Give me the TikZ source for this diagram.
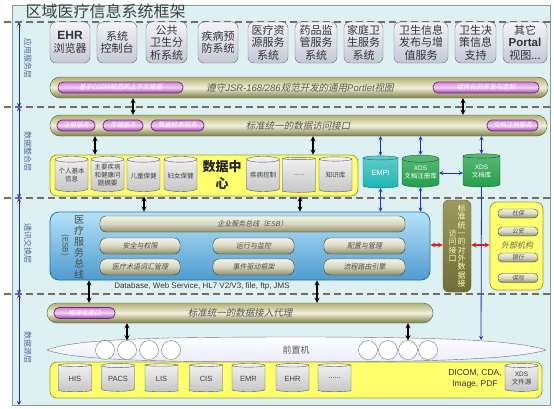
\documentclass[tikz,border=0pt]{standalone}
\usepackage{fontspec}
\setmainfont{Noto Sans CJK SC}
\newfontfamily\lat{Liberation Sans}
\newfontfamily\itcjk{Noto Sans CJK SC}[FakeSlant=0.2]
\XeTeXlinebreaklocale "zh"
\usetikzlibrary{arrows,shapes.geometric,calc,positioning}

\definecolor{bgcyan}{HTML}{DDF1F2}
\definecolor{frameline}{HTML}{8A9AA0}
\definecolor{sepline}{HTML}{7B6B5B}
\definecolor{appline}{HTML}{6A6C7C}
\definecolor{apptop}{HTML}{F4F4F8}
\definecolor{appbot}{HTML}{C4C7D6}
\definecolor{olivetop}{HTML}{B0B074}
\definecolor{olivemid}{HTML}{F0F0DA}
\definecolor{olivebot}{HTML}{7E7E45}
\definecolor{oliveline}{HTML}{5E5E2E}
\definecolor{purptop}{HTML}{D080DA}
\definecolor{purpmid}{HTML}{F3D2F5}
\definecolor{purpbot}{HTML}{A040B0}
\definecolor{purpline}{HTML}{6E2A80}
\definecolor{yellowfill}{HTML}{FFFF6E}
\definecolor{yellowline}{HTML}{9C9C3A}
\definecolor{cyltop}{HTML}{F2F2F2}
\definecolor{cylbot}{HTML}{C6C6C6}
\definecolor{cylline}{HTML}{5A5A5A}
\definecolor{tealfill}{HTML}{1FB5B5}
\definecolor{tealline}{HTML}{0E6E6E}
\definecolor{greenfill}{HTML}{23A04A}
\definecolor{greenline}{HTML}{0F5E28}
\definecolor{esbtop}{HTML}{B5E2F7}
\definecolor{esbbot}{HTML}{4E9BD0}
\definecolor{esbline}{HTML}{2F6FA0}
\definecolor{pilltop}{HTML}{F4F4E6}
\definecolor{pillbot}{HTML}{8E8E68}
\definecolor{pillline}{HTML}{3E3E2E}
\definecolor{stdtop}{HTML}{9A9A60}
\definecolor{stdbot}{HTML}{6E6E38}
\definecolor{redarr}{HTML}{E21B1B}
\definecolor{bluearr}{HTML}{1B2BD0}
\definecolor{sidetext}{HTML}{4A6A9A}

\newcommand\fs[2]{\fontsize{#1}{#2}\selectfont}

\begin{document}
\begin{tikzpicture}[
x=1pt,y=-1pt,
>=stealth,
appbox/.style={
	draw=appline,
	rounded corners=6,
	top color=apptop,
	bottom color=appbot,
	minimum height=41,
	inner sep=0pt,
	align=center,
	text=black!80,
	font=\fs{11}{12.5}
},
tube/.style={
	draw=oliveline,
	rounded corners=10,
	top color=olivetop,
	bottom color=olivebot,
	middle color=olivemid,
	inner sep=0pt
},
purple/.style={
	draw=purpline,
	thick,
	rounded corners=5,
	top color=purptop,
	bottom color=purpbot,
	middle color=purpmid,
	minimum height=11,
	inner sep=0pt,
	text=white,
	font=\itcjk\fs{6.5}{7}
},
bartext/.style={
	text=black!65,
	font=\itcjk\fs{9.5}{10}
},
yellowbox/.style={
	draw=yellowline,
	thick,
	rounded corners=7,
	fill=yellowfill,
	inner sep=0pt
},
cyl/.style={
	cylinder,
	shape border rotate=90,
	aspect=0.22,
	draw=cylline,
	top color=cyltop,
	bottom color=cylbot,
	inner sep=0pt,
	align=center,
	text=black!75,
	font=\fs{6.5}{8}
},
esbpill/.style={
	draw=pillline,
	rounded corners=6,
	top color=pilltop,
	bottom color=pillbot,
	middle color=pilltop!70!pillbot,
	minimum height=16,
	inner sep=0pt,
	text=black!70,
	font=\itcjk\fs{7}{8}
},
ball/.style={
	circle,
	draw=black!55,
	fill=white,
	minimum size=19,
	inner sep=0pt
},
sidelabel/.style={
	rotate=-90,
	text=sidetext,
	font=\fs{8}{9}
},
blk/.style={<->,very thick,black},
blu/.style={<->,thick,bluearr},
red/.style={<->,very thick,redarr},
sep/.style={sepline,line width=1.2pt,dash pattern=on 7pt off 4pt}
]
\useasboundingbox (0,0) rectangle (554,408);

% frame and title
\draw[frameline,fill=bgcyan] (12,5) rectangle (550,405);
\node[anchor=west,text=black!75,font=\fs{16}{18}] (title) at (22,11) {区域医疗信息系统框架};

% layer separators
\foreach \y in {22,107,198,294}
\draw[sep] (4,\y) -- (550,\y);

% left axis
\coordinate (ax0) at (19,22);
\coordinate (ax1) at (19,107);
\coordinate (ax2) at (19,198);
\coordinate (ax3) at (19,294);
\coordinate (ax4) at (19,405);
\draw[blu] (ax0) -- (ax1);
\draw[blu] (ax1) -- (ax2);
\draw[blu] (ax2) -- (ax3);
\draw[blu] (ax3) -- (ax4);
\node[sidelabel] (lyr1) at (28,58) {应用服务层};
\node[sidelabel] (lyr2) at (28,151) {数据整合层};
\node[sidelabel] (lyr3) at (28,243) {通讯交换层};
\node[sidelabel] (lyr4) at (28,347) {数据源层};

% application layer
\foreach \n/\x/\w/\t in {
	app1/70/40/{{\lat\bfseries\fs{12}{13}EHR}\\浏览器},
	app2/117/40/{系统\\控制台},
	app3/166.5/41/{公共\\卫生分\\析系统},
	app4/218/40/{疾病预\\防系统},
	app5/268/40/{医疗资\\源服务\\系统},
	app6/316/42/{药品监\\管服务\\系统},
	app7/363.5/39/{家庭卫\\生服务\\系统},
	app8/421/54/{卫生信息\\发布与增\\值服务},
	app9/475.5/41/{卫生决\\策信息\\支持},
	app10/525/44/{其它\\{\lat\bfseries\fs{11.5}{12.5}Portal}\\视图{...}}}
\node[appbox,minimum width=\w] (\n) at (\x,42.5) {\t};

% portlet bar
\node[tube,minimum width=498,minimum height=21] (portlet) at (299,87.5) {};
\node[purple,minimum width=125] (ccow) at (120.5,87.5) {基于CCOW规范的上下文管理};
\node[purple,minimum width=106] (custom) at (486,87.5) {组件化的开发与定制};
\node[bartext] (portlettxt) at (300,88) {遵守{\lat\itshape JSR-168/286}规范开发的通用{\lat\itshape Portlet}视图};

% data access bar
\node[tube,minimum width=497,minimum height=21] (access) at (298.5,125.5) {};
\node[purple,minimum width=38] (reg) at (76,125.5) {注册服务};
\node[purple,minimum width=40] (store) at (123,125.5) {存储服务};
\node[purple,minimum width=53] (query) at (177.5,125.5) {数据检索服务};
\node[purple,minimum width=51] (docreg) at (512.5,125.5) {文档注册服务};
\node[bartext] (accesstxt) at (298,125.5) {标准统一的数据访问接口};

\draw[blk] (portlet.south -| 133,0) -- (access.north -| 133,0);
\draw[blk] (portlet.south -| 463,0) -- (access.north -| 463,0);

% data center
\node[yellowbox,minimum width=308,minimum height=41] (dcbox) at (204,175.5) {};
\foreach \n/\x/\t in {
	dc1/71.5/{个人基本\\信息},
	dc2/107.5/{主要疾病\\和健康问\\题摘要},
	dc3/143.5/{儿童保健},
	dc4/180.5/{妇女保健},
	dc5/263/{疾病控制},
	dc6/299/{{......}},
	dc7/335.5/{知识库}}
\node[cyl,minimum width=33,minimum height=35] (\n) at (\x,175.5) {\t};
\node[font=\bfseries\fs{13}{17},text=black!85,align=center] (dctxt) at (222,175) {数据中\\心};

\node[cyl,top color=tealfill!70,bottom color=tealfill,draw=tealline,text=white,
	minimum width=35,minimum height=32,font=\lat\fs{7.5}{8}] (empi) at (380.5,173) {EMPI};
\node[cyl,top color=greenfill!75,bottom color=greenfill,draw=greenline,text=white,
	minimum width=37,minimum height=32] (xdsreg) at (420.5,173) {{\lat XDS}\\文档注册库};
\node[cyl,top color=greenfill!75,bottom color=greenfill,draw=greenline,text=white,
	minimum width=37,minimum height=33] (xdsrepo) at (481.5,171.5) {{\lat XDS}\\文档库};

\draw[blk] (access.south -| 95,0) -- (dcbox.north -| 95,0);
\draw[blk] (access.south -| 313,0) -- (dcbox.north -| 313,0);
\draw[blu] (access.south -| empi) -- (empi.north);
\draw[blu] (access.south -| xdsreg) -- (xdsreg.north);
\draw[blu] (access.south -| xdsrepo) -- (xdsrepo.north);
\draw[blu] (xdsreg.east) -- (xdsrepo.west |- xdsreg.east);

% service bus
\node[draw=esbline,thick,rounded corners=9,top color=esbtop,bottom color=esbbot,
	minimum width=380,minimum height=68,inner sep=0pt] (esb) at (240,246) {};
\node[text=black!70,align=center,font=\fs{10}{11}] (esbname) at (79,247) {医\\疗\\服\\务\\总\\线};
\node[rotate=-90,text=black!70,font=\fs{8}{9}] (esbabbr) at (65,245) {({\lat ESB})};
\node[esbpill,minimum width=305] (bus) at (252.5,224) {企业服务总线（{\lat\itshape ESB}）};
\node[esbpill,minimum width=80] (sec) at (140,246) {安全与权限};
\node[esbpill,minimum width=81] (mon) at (253.5,246) {运行与监控};
\node[esbpill,minimum width=81] (cfg) at (364.5,246) {配置与管理};
\node[esbpill,minimum width=80] (term) at (140,267) {医疗术语词汇管理};
\node[esbpill,minimum width=81] (evt) at (253.5,267) {事件驱动框架};
\node[esbpill,minimum width=81] (flow) at (364.5,267) {流程路由引擎};
\node[font=\lat\fs{8}{9},text=black!80] (proto) at (202,286.5) {Database, Web Service, HL7 V2/V3, file, ftp, JMS};

\draw[blk] (dcbox.south -| 144,0) -- (esb.north -| 144,0);
\draw[blk] (dcbox.south -| 300,0) -- (esb.north -| 300,0);
\draw[blu] (empi.south) -- (esb.north -| empi);
\draw[blu] (xdsreg.south) -- (esb.north -| xdsreg);

% external interface
\node[draw=oliveline,rounded corners=6,top color=stdtop,bottom color=stdbot,
	minimum width=28,minimum height=92,inner sep=0pt,text=yellow!30,font=\fs{8}{8.3}] (stdif) at (457,246)
	{\parbox{8pt}{\centering 访\\问\\接\\口}\hspace{1pt}\parbox{8pt}{\centering 标\\准\\统\\一\\的\\对\\外\\数\\据\\接}};
\node[yellowbox,minimum width=53,minimum height=88] (ext) at (516.5,246) {};
\foreach \n/\y/\t in {ss/213.5/社保,ga/231.5/公安,yh/257.5/银行,bx/278/保险}
\node[esbpill,minimum width=40,minimum height=9,rounded corners=4,font=\itcjk\fs{6}{7}] (\n) at (518,\y) {\t};
\node[text=black!60,font=\itcjk\fs{8}{9}] (exttxt) at (517,245) {外部机构};

\draw[red] (esb.east |- 0,245) -- (stdif.west |- 0,245);
\draw[red] (stdif.east |- 0,245) -- (ext.west |- 0,245);

% data access proxy
\node[tube,minimum width=386,minimum height=20] (proxy) at (240,313) {};
\node[purple,minimum width=61] (stdport) at (84.5,313) {标准化接口};
\node[bartext] (proxytxt) at (240,313) {标准统一的数据接入代理};

\draw[blk] (esb.south -| 89,0) -- (proxy.north -| 89,0);
\draw[blk] (esb.south -| 317,0) -- (proxy.north -| 317,0);

% front-end machines
\draw[draw=black!55,top color=white,bottom color=blue!8!white]
	(47,350) .. controls (75,339) and (150,337) .. (300,337)
	.. controls (450,337) and (520,341) .. (546,350)
	.. controls (520,358) and (450,362) .. (300,362)
	.. controls (150,362) and (75,360) .. (47,350) -- cycle;
\node[text=black!65,font=\fs{9}{10}] (qzj) at (296,350) {前置机};
\foreach \n/\x in {c1/105,c2/127,c3/149,c4/171,c5/368,c6/388,c7/408,c8/428}
\node[ball] (\n) at (\x,350) {};
\coordinate (qzjtop) at (481,340);

\draw[blk] (proxy.south -| c2) -- (c2.north);
\draw[blk] (proxy.south -| c7) -- (c7.north);
\draw[->,thick,bluearr] (xdsrepo.south) -- (qzjtop);

% data sources
\node[yellowbox,minimum width=492,minimum height=36] (srcbox) at (296,380) {};
\foreach \n/\x/\t in {
	his/75/HIS,
	pacs/118/PACS,
	lis/161.5/LIS,
	cis/206/CIS,
	emr/248.5/EMR,
	ehr/292.5/EHR,
	more/334.5/{{......}}}
\node[cyl,minimum width=33,minimum height=28,font=\lat\fs{7.5}{8}] (\n) at (\x,378.5) {\t};
\node[cyl,minimum width=33,minimum height=28] (xdssrc) at (521.5,378.5) {{\lat XDS}\\文件源};
\node[align=center,font=\lat\fs{8.5}{11},text=black!80] (fmt) at (475,379) {DICOM, CDA,\\Image, PDF};
\end{tikzpicture}
\end{document}
